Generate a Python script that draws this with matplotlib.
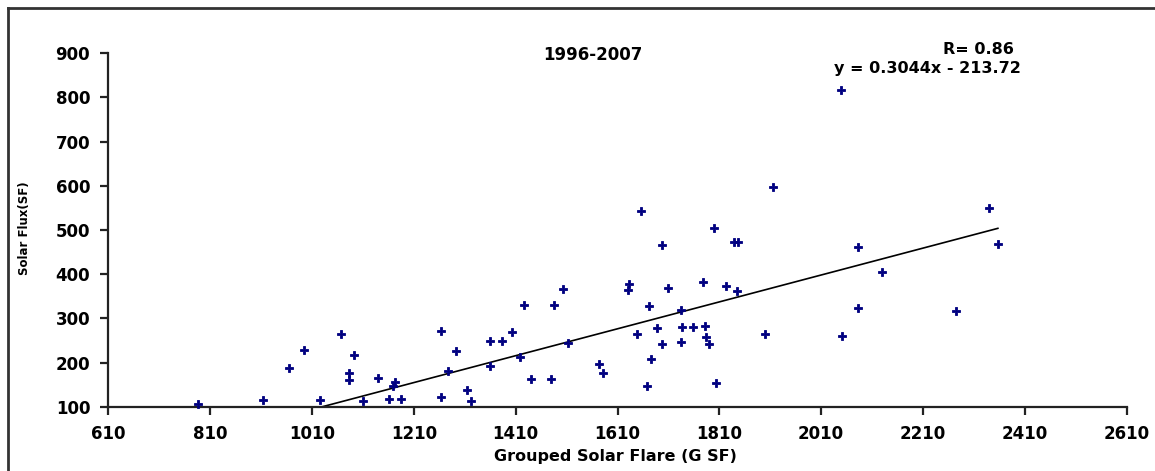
import matplotlib
matplotlib.use("Agg")
import matplotlib.pyplot as plt
from matplotlib.lines import Line2D
import numpy as np

# Grouped Solar Flare (GSF) values and Solar Flux (SF) values
gsf = [787, 913, 964, 995, 1025, 1067, 1083, 1083, 1093, 1111, 1140, 1162, 1173,
       1170, 1185, 1264, 1264, 1278, 1293, 1315, 1323, 1359, 1360, 1384, 1402,
       1419, 1427, 1440, 1480, 1486, 1503, 1512, 1573, 1581, 1631, 1632, 1649,
       1656, 1668, 1671, 1676, 1687, 1698, 1698, 1709, 1734, 1734, 1737, 1758,
       1778, 1782, 1784, 1789, 1799, 1803, 1823, 1839, 1847, 1844, 1899, 1915,
       2048, 2051, 2082, 2083, 2129, 2275, 2339, 2357]
sf = [106, 115, 188, 228, 115, 264, 177, 160, 216, 113, 164, 117, 155,
      147, 118, 271, 121, 181, 226, 137, 113, 192, 249, 249, 268,
      213, 330, 163, 163, 330, 367, 245, 196, 176, 364, 377, 264,
      543, 147, 328, 207, 279, 466, 242, 368, 319, 246, 281, 280,
      382, 283, 258, 241, 505, 154, 373, 473, 473, 362, 264, 597,
      817, 261, 324, 461, 404, 317, 549, 468]

slope = 0.3044
intercept = -213.72

x_ticks = list(range(610, 2611, 200))
y_ticks = list(range(100, 901, 100))

title = "1996-2007"
r_text = "R= 0.86"
eq_text = "y = 0.3044x - 213.72"
xlabel = "Grouped Solar Flare (G SF)"
ylabel = "Solar Flux(SF)"

W, H = 1155, 471
fig = plt.figure(figsize=(W / 100, H / 100), dpi=100)
fig.patch.set_facecolor("white")

ax = fig.add_axes([108.3 / W, 1 - 406.7 / H, (1126.7 - 108.3) / W, (406.7 - 53.3) / H])
ax.set_xlim(610, 2610)
ax.set_ylim(100, 900)

ax.plot(gsf, sf, linestyle="none", marker="P", markersize=6,
        color="#000080", markeredgecolor="#000080", markeredgewidth=0.6,
        clip_on=False, zorder=3)

xs = np.array([min(gsf), max(gsf)])
ax.plot(xs, slope * xs + intercept, color="black", linewidth=1.2, zorder=2)

for s in ["top", "right"]:
    ax.spines[s].set_visible(False)
for s in ["left", "bottom"]:
    ax.spines[s].set_linewidth(1.6)
    ax.spines[s].set_color("#222222")

ax.set_xticks(x_ticks)
ax.set_yticks(y_ticks)
ax.tick_params(direction="out", length=6, width=1.6, color="#222222", pad=7)
font = dict(family="DejaVu Sans", weight="bold", size=12)
ax.set_xticklabels([str(v) for v in x_ticks], **font)
ax.set_yticklabels([str(v) for v in y_ticks], **font)

fig.text(615 / W, 1 - 457 / H, xlabel, ha="center", va="center",
         family="DejaVu Sans", weight="bold", size=11.5)
fig.text(25 / W, 1 - 228 / H, ylabel, ha="center", va="center", rotation=90,
         family="DejaVu Sans", weight="bold", size=8.5)
fig.text(593 / W, 1 - 55 / H, title, ha="center", va="center",
         family="DejaVu Sans", weight="bold", size=12)
fig.text(978 / W, 1 - 49 / H, r_text, ha="center", va="center",
         family="DejaVu Sans", weight="bold", size=11.5)
fig.text(927 / W, 1 - 68 / H, eq_text, ha="center", va="center",
         family="DejaVu Sans", weight="bold", size=11.5)

# outer frame (top and left edges visible)
fig.add_artist(Line2D([8 / W, 1.0], [1 - 8 / H, 1 - 8 / H], transform=fig.transFigure,
                      color="#333333", linewidth=2))
fig.add_artist(Line2D([8 / W, 8 / W], [1 - 8 / H, 0.0], transform=fig.transFigure,
                      color="#333333", linewidth=2))

fig.savefig("out.png", dpi=100)
